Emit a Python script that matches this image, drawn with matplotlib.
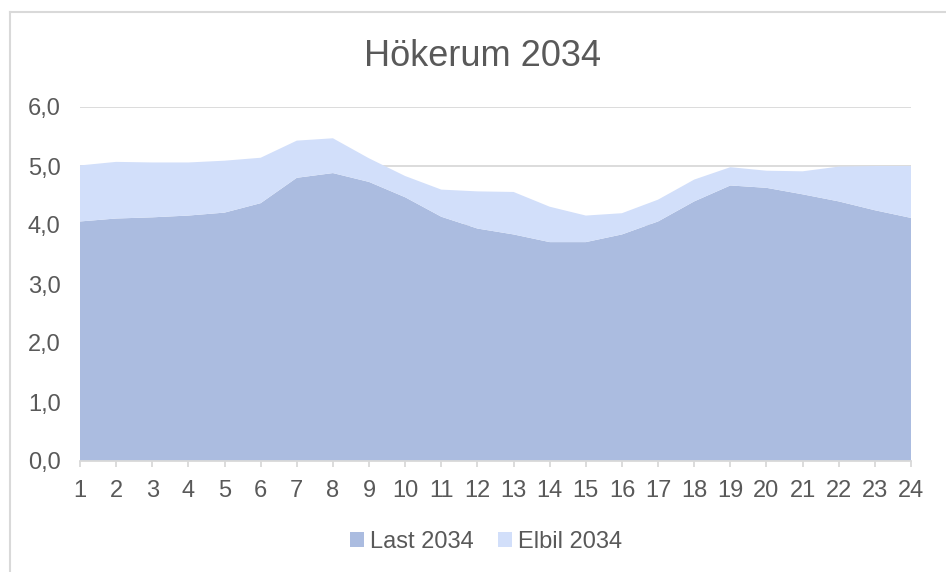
import matplotlib
matplotlib.use("Agg")
import matplotlib.pyplot as plt
from matplotlib.patches import Patch
from matplotlib.lines import Line2D
import numpy as np

hours = list(range(1, 25))
last_2034 = [4.06, 4.11, 4.13, 4.16, 4.21, 4.37, 4.80, 4.88, 4.73, 4.47, 4.14, 3.94,
             3.84, 3.71, 3.71, 3.84, 4.06, 4.40, 4.67, 4.63, 4.52, 4.40, 4.25, 4.12]
total_2034 = [5.01, 5.07, 5.06, 5.06, 5.09, 5.14, 5.43, 5.47, 5.13, 4.83, 4.60, 4.57,
              4.56, 4.31, 4.16, 4.20, 4.43, 4.77, 4.98, 4.92, 4.91, 4.99, 5.00, 5.00]
elbil_2034 = [round(t - l, 2) for t, l in zip(total_2034, last_2034)]
series_names = ["Last 2034", "Elbil 2034"]
title = "Hökerum 2034"
ytick_labels = ["0,0", "1,0", "2,0", "3,0", "4,0", "5,0", "6,0"]

c_last = "#ABBCE0"
c_elbil = "#D2DFFA"
txt = "#595959"
grid = "#D9D9D9"

plt.rcParams['font.family'] = ['Liberation Sans', 'DejaVu Sans']

fig = plt.figure(figsize=(9.46, 5.72), dpi=100)
ax = fig.add_axes([80/946, 1 - 461/572, 831/946, 354/572])

ax.stackplot(hours, last_2034, elbil_2034, colors=[c_last, c_elbil], linewidth=0)

ax.set_xlim(1, 24)
ax.set_ylim(0, 6)
ax.set_yticks(range(0, 7))
ax.set_yticklabels(ytick_labels)
ax.set_xticks(hours)
ax.set_xticklabels([str(h) for h in hours])

for y in range(1, 7):
    ax.axhline(y, color=grid, lw=1.3, zorder=0)
ax.set_axisbelow(True)

for s in ["top", "right", "left"]:
    ax.spines[s].set_visible(False)
ax.spines["bottom"].set_color(grid)
ax.spines["bottom"].set_linewidth(1.3)
ax.spines["bottom"].set_zorder(5)

ax.tick_params(axis="y", length=0, pad=14, labelsize=17, labelcolor=txt)
ax.tick_params(axis="x", length=4, width=1.3, color=grid, pad=10, labelsize=17, labelcolor=txt)

fig.text(482/946, 1 - 57/572, title, ha="center", va="center", fontsize=26, color=txt)

handles = [Patch(facecolor=c_last, edgecolor="none"), Patch(facecolor=c_elbil, edgecolor="none")]
leg = fig.legend(handles, series_names, loc="center", bbox_to_anchor=(486/946, 1 - 542/572),
                 ncol=2, frameon=False, fontsize=17, handlelength=0.6, handleheight=0.6,
                 handletextpad=0.25, columnspacing=1.0, labelcolor=txt)

# outer chart border (partially cropped)
fig.add_artist(Line2D([9.5/946, 1], [1 - 11.5/572, 1 - 11.5/572], color=grid, lw=1.5))
fig.add_artist(Line2D([9.5/946, 9.5/946], [0, 1 - 11.5/572], color=grid, lw=1.5))

fig.savefig("out.png", dpi=100)
